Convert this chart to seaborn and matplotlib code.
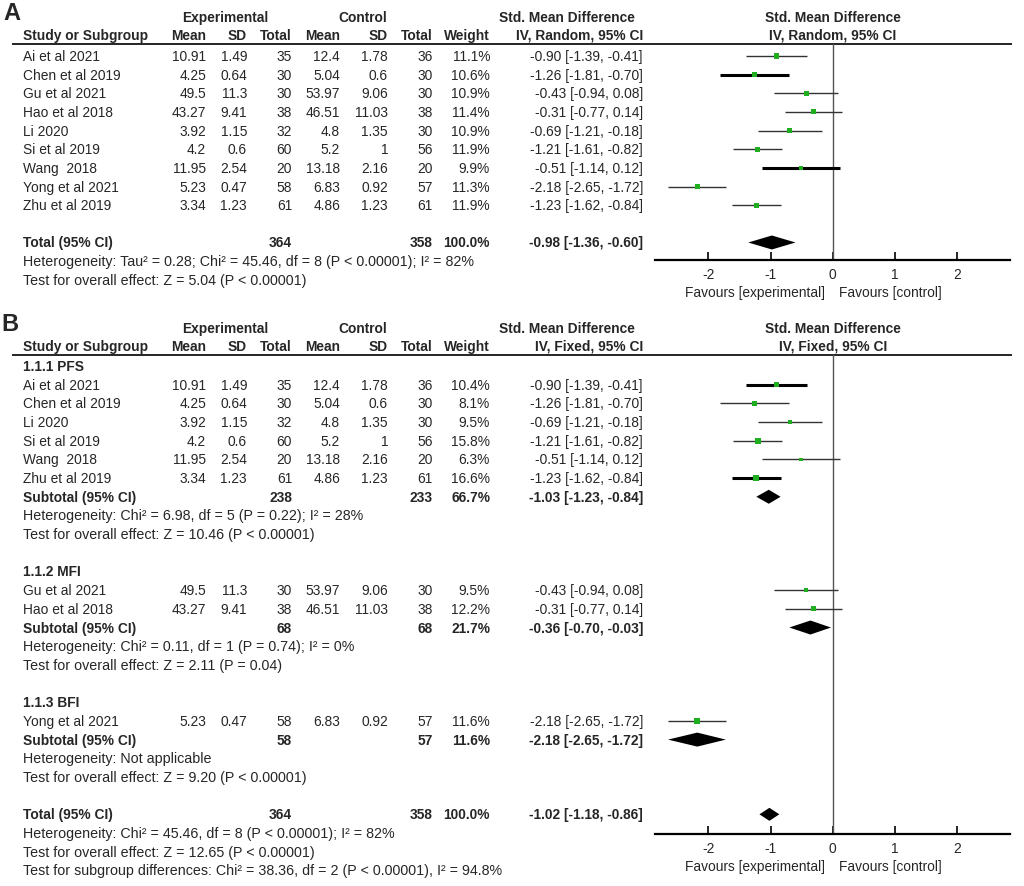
import matplotlib
matplotlib.use('Agg')
import matplotlib.pyplot as plt
import seaborn as sns

# study data
studies = ['Ai et al 2021', 'Chen et al 2019', 'Gu et al 2021', 'Hao et al 2018', 'Li 2020',
           'Si et al 2019', 'Wang  2018', 'Yong et al 2021', 'Zhu et al 2019']
exp_mean = [10.91, 4.25, 49.5, 43.27, 3.92, 4.2, 11.95, 5.23, 3.34]
exp_sd = [1.49, 0.64, 11.3, 9.41, 1.15, 0.6, 2.54, 0.47, 1.23]
exp_n = [35, 30, 30, 38, 32, 60, 20, 58, 61]
ctl_mean = [12.4, 5.04, 53.97, 46.51, 4.8, 5.2, 13.18, 6.83, 4.86]
ctl_sd = [1.78, 0.6, 9.06, 11.03, 1.35, 1, 2.16, 0.92, 1.23]
ctl_n = [36, 30, 30, 38, 30, 56, 20, 57, 61]
smd = [-0.90, -1.26, -0.43, -0.31, -0.69, -1.21, -0.51, -2.18, -1.23]
ci_lo = [-1.39, -1.81, -0.94, -0.77, -1.21, -1.61, -1.14, -2.65, -1.62]
ci_hi = [-0.41, -0.70, 0.08, 0.14, -0.18, -0.82, 0.12, -1.72, -0.84]
w_random = [11.1, 10.6, 10.9, 11.4, 10.9, 11.9, 9.9, 11.3, 11.9]
w_fixed = [10.4, 8.1, 9.5, 12.2, 9.5, 15.8, 6.3, 11.6, 16.6]
subgroup = ['PFS', 'PFS', 'MFI', 'MFI', 'PFS', 'PFS', 'PFS', 'BFI', 'PFS']

# subgroup summaries (panel B)
sub_keys = ['PFS', 'MFI', 'BFI']
sub_titles = ['1.1.1 PFS', '1.1.2 MFI', '1.1.3 BFI']
sub_exp_n = [238, 68, 58]
sub_ctl_n = [233, 68, 57]
sub_w = [66.7, 21.7, 11.6]
sub_smd = [-1.03, -0.36, -2.18]
sub_lo = [-1.23, -0.70, -2.65]
sub_hi = [-0.84, -0.03, -1.72]
sub_het = ['Heterogeneity: Chi² = 6.98, df = 5 (P = 0.22); I² = 28%',
           'Heterogeneity: Chi² = 0.11, df = 1 (P = 0.74); I² = 0%',
           'Heterogeneity: Not applicable']
sub_test = ['Test for overall effect: Z = 10.46 (P < 0.00001)',
            'Test for overall effect: Z = 2.11 (P = 0.04)',
            'Test for overall effect: Z = 9.20 (P < 0.00001)']

# overall results
tot_exp_n, tot_ctl_n = 364, 358
tot_random = (-0.98, -1.36, -0.60)
tot_fixed = (-1.02, -1.18, -0.86)
het_random = 'Heterogeneity: Tau² = 0.28; Chi² = 45.46, df = 8 (P < 0.00001); I² = 82%'
test_random = 'Test for overall effect: Z = 5.04 (P < 0.00001)'
het_fixed = 'Heterogeneity: Chi² = 45.46, df = 8 (P < 0.00001); I² = 82%'
test_fixed = 'Test for overall effect: Z = 12.65 (P < 0.00001)'
test_sub = 'Test for subgroup differences: Chi² = 38.36, df = 2 (P < 0.00001), I² = 94.8%'

thick_a = ['Chen et al 2019', 'Wang  2018']
thick_b = ['Ai et al 2021', 'Zhu et al 2019']

sns.set_style('white')
plt.rcParams['font.family'] = ['Liberation Sans', 'DejaVu Sans']
plt.rcParams['axes.unicode_minus'] = False
FS = 9.9
FS_NOTE = 10.3
GREEN = '#1fae1f'
COLS = [206, 247, 292, 340, 388, 433, 490, 643]
STEP = 18.65

fig = plt.figure(figsize=(10.24, 8.87), dpi=100)
bg = fig.add_axes([0, 0, 1, 1])
bg.set_xlim(0, 1024)
bg.set_ylim(887, 0)
bg.axis('off')


def txt(x, y, s, bold=False, ha='left', size=FS):
    bg.text(x, y, s, ha=ha, va='center', fontsize=size,
            fontweight='bold' if bold else 'normal')


def note(y, s):
    txt(23, y, s, size=FS_NOTE)


def ci_text(e, l, h):
    return f'{e:.2f} [{l:.2f}, {h:.2f}]'


def header(y1, y2, yline, method):
    txt(225, y1, 'Experimental', True, 'center')
    txt(363, y1, 'Control', True, 'center')
    txt(567, y1, 'Std. Mean Difference', True, 'center')
    txt(833, y1, 'Std. Mean Difference', True, 'center')
    txt(23, y2, 'Study or Subgroup', True)
    labs = ['Mean', 'SD', 'Total', 'Mean', 'SD', 'Total', 'Weight', f'IV, {method}, 95% CI']
    for x, lab in zip(COLS, labs):
        txt(x, y2, lab, True, 'right')
    txt(833, y2, f'IV, {method}, 95% CI', True, 'center')
    bg.hlines(yline, 12, 1012, color='black', lw=1.2)


def study_row(y, k, w):
    vals = [f'{exp_mean[k]:g}', f'{exp_sd[k]:g}', str(exp_n[k]),
            f'{ctl_mean[k]:g}', f'{ctl_sd[k]:g}', str(ctl_n[k]),
            f'{w:.1f}%', ci_text(smd[k], ci_lo[k], ci_hi[k])]
    txt(23, y, studies[k])
    for x, v in zip(COLS, vals):
        txt(x, y, v, ha='right')


def total_row(y, label, n1, n2, w, est):
    txt(23, y, label, True)
    txt(COLS[2], y, str(n1), True, 'right')
    txt(COLS[5], y, str(n2), True, 'right')
    txt(COLS[6], y, f'{w:.1f}%', True, 'right')
    txt(COLS[7], y, ci_text(*est), True, 'right')


def forest_axes(top, bottom):
    ax = fig.add_axes([655 / 1024, 1 - bottom / 887, 355 / 1024, (bottom - top) / 887])
    ax.set_xlim(-2.86, 2.85)
    ax.set_ylim(bottom, top)
    ax.patch.set_alpha(0)
    for s in ['left', 'top', 'right']:
        ax.spines[s].set_visible(False)
    ax.spines['bottom'].set_linewidth(1.6)
    ax.spines['bottom'].set_color('black')
    ax.set_yticks([])
    ax.set_xticks([-2, -1, 0, 1, 2])
    ax.tick_params(axis='x', direction='in', length=6, width=1.2, pad=5,
                   labelsize=FS, bottom=True, color='black')
    ax.axvline(0, color='#555555', lw=1, zorder=1)
    txt(825, bottom + 32, 'Favours [experimental]', ha='right')
    txt(839, bottom + 32, 'Favours [control]')
    return ax


def diamond(ax, y, est, half=7):
    e, l, h = est
    ax.fill([l, e, h, e], [y, y - half, y, y + half], color='black', lw=0, zorder=3)


def plot_studies(ax, idx, ys, weights, thick):
    for k, y in zip(idx, ys):
        bold = studies[k] in thick
        ax.hlines(y, ci_lo[k], ci_hi[k], color='black' if bold else '#333333',
                  lw=2.2 if bold else 1.0, zorder=2)
    w = [weights[k] for k in idx]
    sns.scatterplot(x=[smd[k] for k in idx], y=ys, size=w,
                    sizes=(1.18 * min(w), 1.18 * max(w)), size_norm=(min(w), max(w)),
                    marker='s', color=GREEN, linewidth=0, legend=False, ax=ax, zorder=4)
    ax.set_xlabel('')
    ax.set_ylabel('')


# ---------------- Panel A ----------------
txt(3, 13, 'A', True, size=17)
header(18, 36, 45, 'Random')
axA = forest_axes(45, 261)
ya = [57 + i * STEP for i in range(len(studies))]
for k, y in enumerate(ya):
    study_row(y, k, w_random[k])
plot_studies(axA, list(range(len(studies))), ya, w_random, thick_a)
y_tot = 57 + 10 * STEP
total_row(y_tot, 'Total (95% CI)', tot_exp_n, tot_ctl_n, 100.0, tot_random)
diamond(axA, y_tot, tot_random)
note(y_tot + STEP, het_random)
note(y_tot + 2 * STEP, test_random)

# ---------------- Panel B ----------------
txt(1, 325, 'B', True, size=17)
header(329, 347, 356, 'Fixed')
axB = forest_axes(356, 835)
STEP_B = 18.68
j = 0
for g, key in enumerate(sub_keys):
    y0 = 367 + j * STEP_B
    txt(23, y0, sub_titles[g], True)
    j += 1
    idx = [k for k in range(len(studies)) if subgroup[k] == key]
    ys = []
    for k in idx:
        y = 367 + j * STEP_B
        study_row(y, k, w_fixed[k])
        ys.append(y)
        j += 1
    plot_studies(axB, idx, ys, w_fixed, thick_b)
    ysub = 367 + j * STEP_B
    est = (sub_smd[g], sub_lo[g], sub_hi[g])
    total_row(ysub, 'Subtotal (95% CI)', sub_exp_n[g], sub_ctl_n[g], sub_w[g], est)
    diamond(axB, ysub, est)
    note(ysub + STEP_B, sub_het[g])
    note(ysub + 2 * STEP_B, sub_test[g])
    j += 4

y_tot = 367 + j * STEP_B
total_row(y_tot, 'Total (95% CI)', tot_exp_n, tot_ctl_n, 100.0, tot_fixed)
diamond(axB, y_tot, tot_fixed, half=6.5)
note(y_tot + STEP_B, het_fixed)
note(y_tot + 2 * STEP_B, test_fixed)
note(y_tot + 3 * STEP_B, test_sub)

fig.savefig('out.png', dpi=100)
